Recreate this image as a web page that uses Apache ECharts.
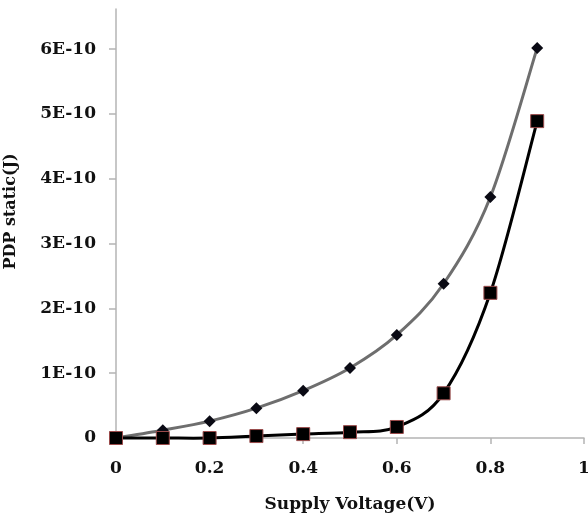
<!DOCTYPE html>
<html>
<head>
<meta charset="utf-8">
<script src="https://cdn.jsdelivr.net/npm/echarts@6/dist/echarts.min.js"></script>
<style>
  html, body { margin: 0; padding: 0; background: #fff; }
  #chart { width: 588px; height: 523px; }
</style>
</head>
<body>
<div id="chart"></div>
<script>
// supply voltage (V)
var voltage = [0, 0.1, 0.2, 0.3, 0.4, 0.5, 0.6, 0.7, 0.8, 0.9];
// PDP static (J), diamond curve
var pdpDiamond = [0, 0.12e-10, 0.26e-10, 0.46e-10, 0.73e-10, 1.08e-10, 1.59e-10, 2.38e-10, 3.72e-10, 6.02e-10];
// PDP static (J), square curve
var pdpSquare = [0, 0, 0, 0.03e-10, 0.06e-10, 0.09e-10, 0.17e-10, 0.69e-10, 2.24e-10, 4.89e-10];
// y tick values and labels
var yTicks = [0, 1e-10, 2e-10, 3e-10, 4e-10, 5e-10, 6e-10];
var yTickLabels = ['0', '1E-10', '2E-10', '3E-10', '4E-10', '5E-10', '6E-10'];

function pairs(xs, ys) {
  var out = [];
  for (var i = 0; i < xs.length; i++) {
    out.push([xs[i], ys[i]]);
  }
  return out;
}

// excel-like smoothed line: one catmull-rom segment per data point
function splineRenderer(ys, color) {
  return function (params, api) {
    var i = params.dataIndex;
    var n = voltage.length;
    if (i >= n - 1) return null;
    var pt = function (k) {
      k = Math.max(0, Math.min(n - 1, k));
      return api.coord([voltage[k], ys[k]]);
    };
    var p0 = pt(i - 1), p1 = pt(i), p2 = pt(i + 1), p3 = pt(i + 2);
    return {
      type: 'bezierCurve',
      shape: {
        x1: p1[0], y1: p1[1],
        x2: p2[0], y2: p2[1],
        cpx1: p1[0] + (p2[0] - p0[0]) / 6, cpy1: p1[1] + (p2[1] - p0[1]) / 6,
        cpx2: p2[0] - (p3[0] - p1[0]) / 6, cpy2: p2[1] - (p3[1] - p1[1]) / 6
      },
      style: { stroke: color, lineWidth: 3, fill: null }
    };
  };
}

var fontFam = 'DejaVu Serif';
var myChart = echarts.init(document.getElementById('chart'));
var option = {
  animation: false,
  backgroundColor: '#fff',
  grid: { left: 116, right: 4, top: 9, bottom: 85, outerBoundsMode: 'none', containLabel: false },
  xAxis: {
    type: 'value',
    min: 0,
    max: 1,
    interval: 0.2,
    name: 'Supply Voltage(V)',
    nameLocation: 'middle',
    nameGap: 58,
    nameTextStyle: { fontFamily: fontFam, fontWeight: 'bold', fontSize: 17, color: '#111' },
    axisLine: { lineStyle: { color: '#b4b4b4', width: 1.5 } },
    axisTick: { show: true, length: 6, lineStyle: { color: '#b4b4b4', width: 1.5 } },
    axisLabel: { margin: 22, fontFamily: fontFam, fontWeight: 'bold', fontSize: 17, color: '#111' },
    splitLine: { show: false }
  },
  yAxis: {
    type: 'value',
    min: 0,
    max: 6.62e-10,
    name: 'PDP static(J)',
    nameLocation: 'middle',
    nameGap: 97,
    nameTextStyle: { fontFamily: fontFam, fontWeight: 'bold', fontSize: 16, color: '#111', padding: [0, 0, 0, 24] },
    axisLine: { show: true, lineStyle: { color: '#b4b4b4', width: 1.5 } },
    axisTick: { show: true, length: 7, customValues: yTicks, lineStyle: { color: '#b4b4b4', width: 1.5 } },
    axisLabel: {
      margin: 20,
      customValues: yTicks,
      fontFamily: fontFam, fontWeight: 'bold', fontSize: 17, color: '#111',
      formatter: function (v) {
        var idx = yTicks.indexOf(v);
        return idx >= 0 ? yTickLabels[idx] : '';
      }
    },
    splitLine: { show: false }
  },
  series: [
    {
      name: 'diamond line',
      type: 'custom',
      data: pairs(voltage, pdpDiamond),
      encode: { x: 0, y: 1 },
      renderItem: splineRenderer(pdpDiamond, '#6e6e6e'),
      z: 2
    },
    {
      name: 'square line',
      type: 'custom',
      data: pairs(voltage, pdpSquare),
      encode: { x: 0, y: 1 },
      renderItem: splineRenderer(pdpSquare, '#000'),
      z: 3
    },
    {
      name: 'diamond',
      type: 'scatter',
      data: pairs(voltage, pdpDiamond),
      symbol: 'diamond',
      symbolSize: [12, 12],
      itemStyle: { color: '#0a0a14', opacity: 1 },
      z: 4
    },
    {
      name: 'square',
      type: 'scatter',
      data: pairs(voltage, pdpSquare),
      symbol: 'rect',
      symbolSize: 13,
      itemStyle: { color: '#000', borderColor: '#9a4a4a', borderWidth: 1, opacity: 1 },
      z: 5
    }
  ]
};
myChart.setOption(option);
</script>
</body>
</html>
